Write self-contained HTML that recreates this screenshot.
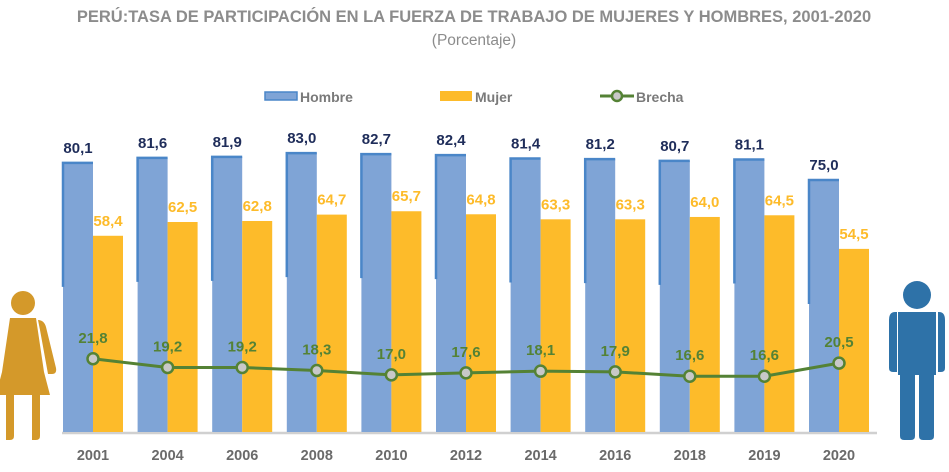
<!DOCTYPE html>
<html><head><meta charset="utf-8"><style>
body{margin:0;background:#fff;width:949px;height:467px;overflow:hidden;font-family:"Liberation Sans",sans-serif}
</style></head><body>
<svg id="c" width="949" height="467" xmlns="http://www.w3.org/2000/svg">
<text x="474" y="22" text-anchor="middle" font-size="16.5" font-weight="bold" fill="#8c8c8c">PERÚ:TASA DE PARTICIPACIÓN EN LA FUERZA DE TRABAJO DE MUJERES Y HOMBRES, 2001-2020</text>
<text x="474" y="45" text-anchor="middle" font-size="15.5" fill="#8c8c8c">(Porcentaje)</text>
<g>
<rect x="265" y="92" width="32" height="8" fill="#7fa4d6" stroke="#4a86c8" stroke-width="1.5"/>
<text x="300" y="102" font-size="14" font-weight="bold" fill="#7a7a7a">Hombre</text>
<rect x="440" y="91" width="32" height="10" fill="#fdbb2a"/>
<text x="475" y="102" font-size="14" font-weight="bold" fill="#7a7a7a">Mujer</text>
<line x1="600" y1="96" x2="634" y2="96" stroke="#548235" stroke-width="3"/>
<circle cx="617" cy="96" r="5" fill="#c8c8c8" stroke="#548235" stroke-width="2.5"/>
<text x="636" y="102" font-size="14" font-weight="bold" fill="#7a7a7a">Brecha</text>
</g>
<g fill="#d4992a">
<circle cx="23" cy="303" r="12"/>
<path d="M10 318 H36 L44 372 L50 395 H-4 L2 372 Z"/>
<path d="M38 320 Q44 320 46 327 L56 368 Q57 374 52 374 L48 374 L40 330 Z"/>
<path d="M6 395 H14 V436 Q14 440 10 440 H6 Z M32 395 H40 V436 Q40 440 36 440 H32 Z"/>
</g>
<g fill="#2e72a8">
<circle cx="917" cy="295" r="14"/>
<path d="M898 312 H936 V375 H898 Z"/>
<path d="M895 312 L897 312 V372 H893 Q889 372 889 368 V320 Q889 312 895 312Z M938 312 H939 Q945 312 945 320 V368 Q945 372 941 372 H938 Z"/>
<path d="M900 372 H915 V436 Q915 440 911 440 H904 Q900 440 900 436 Z M919 372 H934 V436 Q934 440 930 440 H923 Q919 440 919 436 Z"/>
</g>
<line x1="62" y1="433" x2="877" y2="433" stroke="#d0d0d0" stroke-width="2.5"/>
<g id="marks"></g>
</svg>
<script>
const years=["2001","2004","2006","2008","2010","2012","2014","2016","2018","2019","2020"];
const hombre=[80.1,81.6,81.9,83.0,82.7,82.4,81.4,81.2,80.7,81.1,75.0];
const mujer=[58.4,62.5,62.8,64.7,65.7,64.8,63.3,63.3,64.0,64.5,54.5];
const brecha=[21.8,19.2,19.2,18.3,17.0,17.6,18.1,17.9,16.6,16.6,20.5];
const NS="http://www.w3.org/2000/svg";
const g=document.getElementById('marks');
const y=v=>432-v*3.36;
const cx=i=>93+i*74.6;
const fmt=v=>v.toFixed(1).replace('.',',');
function mk(t,a){const e=document.createElementNS(NS,t);for(const k in a)e.setAttribute(k,a[k]);g.appendChild(e);return e;}
years.forEach((yr,i)=>{
  const c=cx(i);
  let r=mk('rect',{x:c-30,y:y(hombre[i]),width:30,height:432-y(hombre[i]),fill:'#7fa4d6'});
  
  
  let o=mk('path',{d:`M${c-30} ${y(hombre[i])+124} V${y(hombre[i])} H${c}`,fill:'none',stroke:'#4a86c8','stroke-width':2.5});
  
  
  let m=mk('rect',{x:c,y:y(mujer[i]),width:30,height:432-y(mujer[i]),fill:'#fdbb2a'});
  
  
  let t1=mk('text',{x:c-15,y:y(hombre[i])-10,'text-anchor':'middle','font-size':15,'font-weight':'bold',fill:'#1f2d5a'});
  t1.textContent=fmt(hombre[i]);
  
  
  let t2=mk('text',{x:c+15,y:y(mujer[i])-10,'text-anchor':'middle','font-size':15,'font-weight':'bold',fill:'#fdbb2a'});
  t2.textContent=fmt(mujer[i]);
  
  
  let t3=mk('text',{x:c,y:460,'text-anchor':'middle','font-size':14.5,'font-weight':'bold',fill:'#6a6a6a'});
  t3.textContent=yr;
  
  
});
const pts=brecha.map((v,i)=>cx(i)+','+y(v)).join(' ');
const pl=mk('polyline',{points:pts,fill:'none',stroke:'#548235','stroke-width':3});


brecha.forEach((v,i)=>{
  const p=mk('circle',{cx:cx(i),cy:y(v),r:5.5,fill:'#c8c8c8',stroke:'#548235','stroke-width':2.5});
  
  
  const t=mk('text',{x:cx(i),y:y(v)-16,'text-anchor':'middle','font-size':15,'font-weight':'bold',fill:'#548235'});
  t.textContent=fmt(v);
  
  
});
</script>
</body></html>
